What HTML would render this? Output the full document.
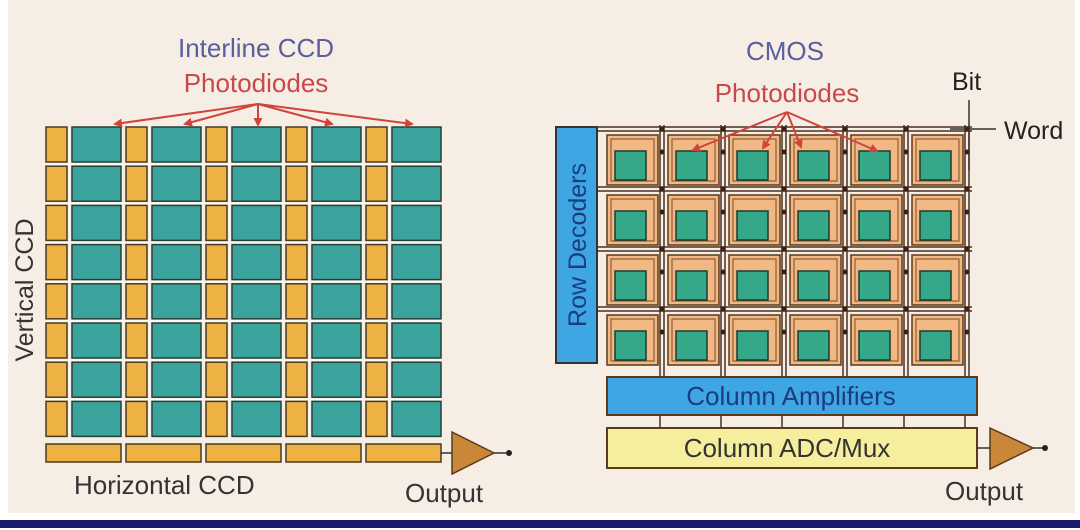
<!DOCTYPE html>
<html><head><meta charset="utf-8"><style>
html,body{margin:0;padding:0;background:#fff;}
svg{display:block;}
text{font-family:"Liberation Sans",sans-serif;}
</style></head><body>
<svg id="s" width="1080" height="530" viewBox="0 0 1080 530" xmlns="http://www.w3.org/2000/svg">
<rect x="0" y="0" width="1080" height="530" fill="#fff"/>
<rect x="8" y="0" width="1067" height="513" fill="#f6ede4"/>
<rect x="0" y="520" width="1080" height="8" fill="#1b1c6e"/>
<defs>
<marker id="ar" markerWidth="9" markerHeight="9" refX="7" refY="4.5" orient="auto" markerUnits="userSpaceOnUse"><path d="M0,0 L9,4.5 L0,9 z" fill="#d0443c"/></marker>
</defs>
<g id="ccd"></g>
<text x="256" y="57" font-size="26" fill="#5b5e9e" text-anchor="middle">Interline CCD</text>
<text x="256" y="92" font-size="26" fill="#c9484a" text-anchor="middle">Photodiodes</text>
<g stroke="#d0443c" stroke-width="2" fill="none" marker-end="url(#ar)">
<line x1="258" y1="104" x2="115" y2="124"/>
<line x1="258" y1="104" x2="185" y2="124"/>
<line x1="258" y1="104" x2="258" y2="125"/>
<line x1="258" y1="104" x2="332" y2="124"/>
<line x1="258" y1="104" x2="412" y2="124"/>
</g>
<text transform="translate(33,290) rotate(-90)" font-size="25" fill="#333" text-anchor="middle">Vertical CCD</text>
<text x="74" y="494" font-size="26" fill="#333">Horizontal CCD</text>
<text x="405" y="502" font-size="26" fill="#333">Output</text>
<line x1="441" y1="453" x2="452" y2="453" stroke="#333" stroke-width="1.5"/>
<polygon points="452,432 494,453 452,474" fill="#c9873a" stroke="#5a3a1a" stroke-width="1.5"/>
<line x1="494" y1="453" x2="508" y2="453" stroke="#333" stroke-width="1.5"/>
<circle cx="509" cy="453" r="3" fill="#222"/>

<text x="785" y="60" font-size="26" fill="#5b5e9e" text-anchor="middle">CMOS</text>
<text x="787" y="102" font-size="26" fill="#c9484a" text-anchor="middle">Photodiodes</text>
<text x="952" y="90" font-size="25" fill="#222">Bit</text>
<text x="1004" y="139" font-size="25" fill="#222">Word</text>
<line x1="969" y1="100" x2="969" y2="170" stroke="#333" stroke-width="1.5"/>
<line x1="950" y1="129" x2="996" y2="129" stroke="#333" stroke-width="1.5"/>
<rect x="556" y="127" width="41" height="236" fill="#3ea6e2" stroke="#333" stroke-width="2"/>
<text transform="translate(586,245) rotate(-90)" font-size="25" fill="#1d3c80" text-anchor="middle">Row Decoders</text>
<g id="wires"></g>
<rect x="607" y="377" width="370" height="38" fill="#3ea6e2" stroke="#5a3a1a" stroke-width="2"/>
<text x="791" y="405" font-size="26" fill="#1d3c80" text-anchor="middle">Column Amplifiers</text>
<rect x="607" y="428" width="370" height="40" fill="#f5ee9c" stroke="#5a3a1a" stroke-width="2"/>
<text x="787" y="457" font-size="26" fill="#333" text-anchor="middle">Column ADC/Mux</text>
<line x1="977" y1="448" x2="990" y2="448" stroke="#333" stroke-width="1.5"/>
<polygon points="990,428 1033,448 990,469" fill="#c9873a" stroke="#5a3a1a" stroke-width="1.5"/>
<line x1="1033" y1="448" x2="1044" y2="448" stroke="#333" stroke-width="1.5"/>
<circle cx="1045" cy="448" r="3" fill="#222"/>
<text x="945" y="500" font-size="26" fill="#333">Output</text>
<g stroke="#d0443c" stroke-width="2" fill="none" marker-end="url(#ar)">
<line x1="787" y1="112" x2="693" y2="150"/>
<line x1="787" y1="112" x2="763" y2="148"/>
<line x1="787" y1="112" x2="801" y2="147"/>
<line x1="787" y1="112" x2="877" y2="151"/>
</g>
</svg>
<script>
var NS="http://www.w3.org/2000/svg";
function el(p,t,a){var e=document.createElementNS(NS,t);for(var k in a)e.setAttribute(k,a[k]);p.appendChild(e);return e;}
var g=document.getElementById("ccd");
var xs=[46,126,206,286,366];
for(var r=0;r<8;r++){var y=127+r*39.2;
 for(var c=0;c<5;c++){var x=xs[c];
  el(g,"rect",{x:x,y:y,width:21,height:35,fill:"#eeb143",stroke:"#4a3a20","stroke-width":1.5});
  el(g,"rect",{x:x+26,y:y,width:49,height:35,fill:"#3aa39b",stroke:"#24403a","stroke-width":1.5});
 }}
for(var r=1;r<8;r++){el(g,"line",{x1:46,y1:125+r*39.2,x2:441,y2:125+r*39.2,stroke:"#fff","stroke-width":1.2,opacity:0.8});}
for(var c=0;c<5;c++){el(g,"line",{x1:xs[c]+23.5,y1:127,x2:xs[c]+23.5,y2:440,stroke:"#fff","stroke-width":1.2,opacity:0.8});}
for(var c=0;c<5;c++){el(g,"rect",{x:xs[c],y:444,width:75,height:18,fill:"#eeb143",stroke:"#4a3a20","stroke-width":1.5});}
var w=document.getElementById("wires");
var cx=[607,668,729,790,851,912], ry=[135,195,255,315];
for(var r=0;r<4;r++){var y=ry[r]-8;
 el(w,"line",{x1:597,y1:y,x2:972,y2:y,stroke:"#4a3020","stroke-width":1.5});
 el(w,"line",{x1:597,y1:y+4,x2:972,y2:y+4,stroke:"#4a3020","stroke-width":1.5});}
for(var c=0;c<6;c++){var x=cx[c]+53;
 el(w,"line",{x1:x,y1:125,x2:x,y2:428,stroke:"#4a3020","stroke-width":1.5});
 el(w,"line",{x1:x+4,y1:125,x2:x+4,y2:377,stroke:"#4a3020","stroke-width":1.5});}
for(var r=0;r<4;r++)for(var c=0;c<6;c++){var x=cx[c],y=ry[r];
 el(w,"rect",{x:x,y:y,width:51,height:50,fill:"#f1b883",stroke:"#5a3a1a","stroke-width":1.5});
 el(w,"rect",{x:x+4,y:y+4,width:43,height:42,fill:"none",stroke:"#7a4a2a","stroke-width":1});
 el(w,"rect",{x:x+8,y:y+16,width:31,height:29,fill:"#36a88a",stroke:"#1e3a30","stroke-width":1.5});
 el(w,"circle",{cx:x+55,cy:y-6,r:2.5,fill:"#3a2010"});
 el(w,"circle",{cx:x+55,cy:y+17,r:2.5,fill:"#3a2010"});}
</script>
</body></html>
